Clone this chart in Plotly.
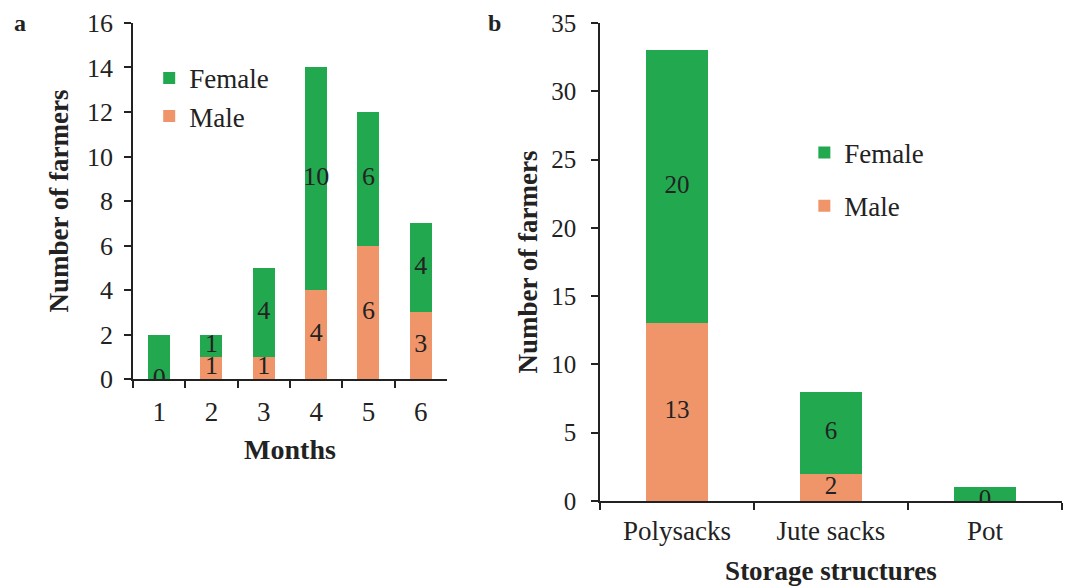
import plotly.graph_objects as go

# ---- data ----
months = ["1", "2", "3", "4", "5", "6"]
male_a = [0, 1, 1, 4, 6, 3]
female_a = [2, 1, 4, 10, 6, 4]
male_a_labels = ["0", "1", "1", "4", "6", "3"]
female_a_labels = ["", "1", "4", "10", "6", "4"]

structures = ["Polysacks", "Jute sacks", "Pot"]
male_b = [13, 2, 0]
female_b = [20, 6, 1]
male_b_labels = ["13", "2", "0"]
female_b_labels = ["20", "6", ""]

GREEN = "#22A84F"
ORANGE = "#F0956A"
INK = "#222222"
FONT = "Liberation Serif"

fig = go.Figure()

# panel a
fig.add_bar(x=months, y=male_a, name="Male", marker_color=ORANGE, width=0.42,
            xaxis="x", yaxis="y", legend="legend", legendrank=2, marker_line_width=0)
fig.add_bar(x=months, y=female_a, name="Female", marker_color=GREEN, width=0.42,
            xaxis="x", yaxis="y", legend="legend", legendrank=1, marker_line_width=0)
fig.add_scatter(x=months, y=[m / 2 for m in male_a], mode="text", text=male_a_labels,
                textfont=dict(family=FONT, size=26, color=INK), showlegend=False,
                hoverinfo="skip", xaxis="x", yaxis="y")
fig.add_scatter(x=months, y=[m + f / 2 for m, f in zip(male_a, female_a)], mode="text",
                text=female_a_labels, textfont=dict(family=FONT, size=26, color=INK),
                showlegend=False, hoverinfo="skip", xaxis="x", yaxis="y")

# panel b
fig.add_bar(x=structures, y=male_b, name="Male", marker_color=ORANGE, width=0.40,
            xaxis="x2", yaxis="y2", legend="legend2", legendgroup="m", legendrank=2,
            marker_line_width=0)
fig.add_bar(x=structures, y=female_b, name="Female", marker_color=GREEN, width=0.40,
            xaxis="x2", yaxis="y2", legend="legend2", legendgroup="f", legendrank=1,
            marker_line_width=0)
fig.add_scatter(x=structures, y=[m / 2 for m in male_b], mode="text", text=male_b_labels,
                textfont=dict(family=FONT, size=25, color=INK), showlegend=False,
                hoverinfo="skip", xaxis="x2", yaxis="y2")
fig.add_scatter(x=structures, y=[m + f / 2 for m, f in zip(male_b, female_b)], mode="text",
                text=female_b_labels, textfont=dict(family=FONT, size=25, color=INK),
                showlegend=False, hoverinfo="skip", xaxis="x2", yaxis="y2")

axis_common = dict(showline=True, linecolor=INK, linewidth=1.6, showgrid=False,
                   zeroline=False, ticks="outside", ticklen=7, tickwidth=1.6,
                   tickcolor=INK, automargin=False, ticklabeloverflow="allow")

fig.update_layout(
    width=1082, height=588,
    margin=dict(l=0, r=0, t=0, b=0, autoexpand=False),
    paper_bgcolor="white", plot_bgcolor="white",
    barmode="stack",
    font=dict(family=FONT, color=INK, size=26),
    xaxis=dict(domain=[0.1155, 0.4057], type="category", tickson="boundaries",
               anchor="y", tickfont=dict(size=27), ticklabelstandoff=8,
               title=dict(text="<b>Months</b>", font=dict(size=28), standoff=13),
               **axis_common),
    yaxis=dict(domain=[0.3690, 0.9745], range=[0, 16], dtick=2, anchor="x",
               tickfont=dict(size=26), ticklabelstandoff=6,
               title=dict(text="<b>Number of farmers</b>", font=dict(size=27), standoff=11),
               **axis_common),
    xaxis2=dict(domain=[0.5471, 0.9741], type="category", tickson="boundaries",
                anchor="y2", tickfont=dict(size=27), ticklabelstandoff=5,
                title=dict(text="<b>Storage structures</b>", font=dict(size=27), standoff=16),
                **axis_common),
    yaxis2=dict(domain=[0.1616, 0.9745], range=[0, 35], dtick=5, anchor="x2",
                tickfont=dict(size=25), ticklabelstandoff=10,
                title=dict(text="<b>Number of farmers</b>", font=dict(size=27), standoff=6),
                **axis_common),
    legend=dict(x=0.1305, y=0.922, xanchor="left", yanchor="top",
                traceorder="normal", bgcolor="rgba(0,0,0,0)",
                font=dict(family=FONT, size=27, color=INK)),
    legend2=dict(x=0.736, y=0.795, xanchor="left", yanchor="top",
                 traceorder="grouped", tracegroupgap=15,
                 bgcolor="rgba(0,0,0,0)",
                 font=dict(family=FONT, size=27, color=INK)),
)

# panel letters
fig.add_annotation(text="<b>a</b>", x=4 / 1082, y=1 - 15 / 588, xref="paper", yref="paper",
                   xanchor="left", yanchor="middle", showarrow=False,
                   font=dict(family=FONT, size=24, color=INK))
fig.add_annotation(text="<b>b</b>", x=478 / 1082, y=1 - 15 / 588, xref="paper", yref="paper",
                   xanchor="left", yanchor="middle", showarrow=False,
                   font=dict(family=FONT, size=24, color=INK))

fig.write_html("out.html")
